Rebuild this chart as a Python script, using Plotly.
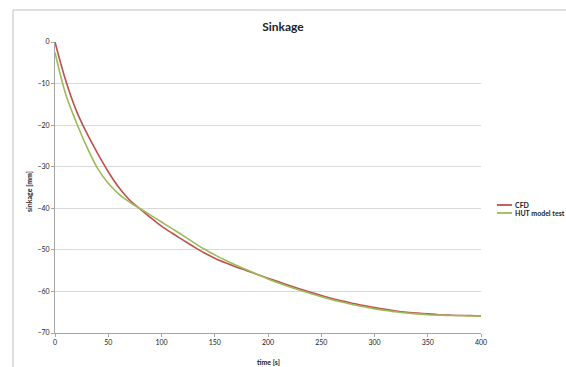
import plotly.graph_objects as go

time_s = [0, 10, 20, 30, 40, 50, 60, 70, 80, 90, 100, 110, 120, 130, 140, 150,
          160, 170, 180, 190, 200, 210, 220, 230, 240, 250, 260, 270, 280, 290,
          300, 310, 320, 330, 340, 350, 360, 370, 380, 390, 400]

cfd = [0, -9.2, -16.5, -22.0, -26.8, -31.2, -35.0, -38.0, -40.2, -42.3, -44.3,
       -46.0, -47.6, -49.2, -50.7, -52.0, -53.1, -54.1, -55.0, -55.9, -56.8,
       -57.7, -58.6, -59.4, -60.2, -61.0, -61.7, -62.3, -62.9, -63.4, -63.9,
       -64.3, -64.7, -65.0, -65.2, -65.4, -65.6, -65.7, -65.8, -65.8, -65.9]

hut = [-2.5, -12.5, -19.3, -25.3, -30.4, -34.0, -36.6, -38.5, -40.1, -41.7,
       -43.3, -44.9, -46.5, -48.2, -49.8, -51.2, -52.5, -53.7, -54.8, -55.9,
       -57.0, -58.0, -58.9, -59.7, -60.5, -61.3, -62.0, -62.6, -63.2, -63.7,
       -64.2, -64.6, -64.9, -65.2, -65.4, -65.6, -65.7, -65.8, -65.8, -65.9,
       -65.9]

series_names = ["CFD", "HUT model test"]
series_colors = ["#c0504d", "#9bbb59"]
x_ticks = [0, 50, 100, 150, 200, 250, 300, 350, 400]
y_ticks = [0, -10, -20, -30, -40, -50, -60, -70]

FONT = "Lato"

fig = go.Figure()
for name, vals, col in zip(series_names, [cfd, hut], series_colors):
    fig.add_trace(go.Scatter(x=time_s, y=vals, mode="lines", name=name,
                             line=dict(color=col, width=1.6, shape="spline"),
                             showlegend=False))

W, H = 566, 367
L, R, T, B = 55, 85, 42, 34
pw, ph = W - L - R, H - T - B

def px_x(p):
    return (p - L) / pw

def px_y(p):
    return (H - B - p) / ph

shapes = [dict(type="rect", xref="paper", yref="paper",
               x0=px_x(13), x1=px_x(575), y0=px_y(375), y1=px_y(10),
               line=dict(color="#bfbfbf", width=1), fillcolor="rgba(0,0,0,0)",
               layer="below")]
annotations = []
legend_y = [205, 213]
for name, col, ly in zip(series_names, series_colors, legend_y):
    shapes.append(dict(type="line", xref="paper", yref="paper",
                       x0=px_x(497), x1=px_x(512), y0=px_y(ly), y1=px_y(ly),
                       line=dict(color=col, width=1.8)))
    annotations.append(dict(text="<b>" + name + "</b>", xref="paper", yref="paper",
                            x=px_x(513), y=px_y(ly), xanchor="left",
                            yanchor="middle", showarrow=False,
                            font=dict(family=FONT, size=7, color="#222")))

annotations.append(dict(text="<b>time [s]</b>", xref="paper", yref="paper",
                        x=0.5, y=px_y(362), xanchor="center", yanchor="middle",
                        showarrow=False, font=dict(family=FONT, size=7, color="#222")))
annotations.append(dict(text="<b>sinkage [mm]</b>", xref="paper", yref="paper",
                        x=px_x(29), y=px_y(192), xanchor="center", yanchor="middle",
                        textangle=-90, showarrow=False,
                        font=dict(family=FONT, size=7, color="#222")))

fig.update_layout(
    width=W, height=H,
    margin=dict(l=L, r=R, t=T, b=B),
    paper_bgcolor="white", plot_bgcolor="white",
    title=dict(text="<b>Sinkage</b>", x=px_x(268), xanchor="center",
               y=1 - 27 / H, yanchor="middle",
               font=dict(family=FONT, size=12, color="#222")),
    shapes=shapes, annotations=annotations,
    xaxis=dict(range=[0, 400], tickvals=x_ticks, showgrid=False,
               showline=True, linecolor="#a6a6a6", linewidth=1,
               ticks="outside", ticklen=3, tickcolor="#a6a6a6",
               tickfont=dict(family=FONT, size=7, color="#222"),
               zeroline=False, fixedrange=True),
    yaxis=dict(range=[-70, 0], tickvals=y_ticks, showgrid=True,
               gridcolor="#d9d9d9", gridwidth=1,
               showline=True, linecolor="#a6a6a6", linewidth=1,
               ticks="outside", ticklen=3, tickcolor="#a6a6a6",
               tickfont=dict(family=FONT, size=7, color="#222"),
               zeroline=False, fixedrange=True),
)

fig.write_html("out.html")
